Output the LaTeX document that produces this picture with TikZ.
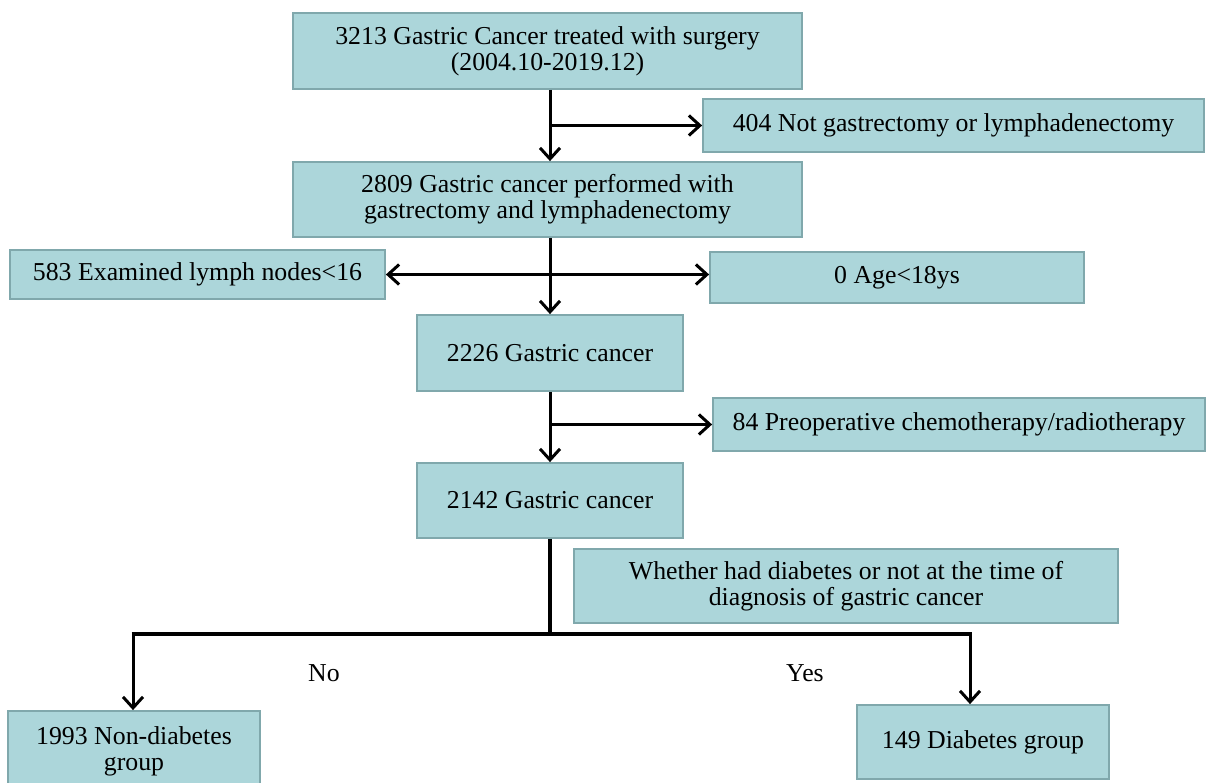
\documentclass[tikz,border=0pt]{standalone}
\usepackage{fontspec}
\setmainfont{Liberation Serif}
\usetikzlibrary{arrows.meta,calc}
\definecolor{boxfill}{RGB}{172,214,218}
\definecolor{boxline}{RGB}{128,168,172}
\tikzset{
  box/.style={draw=boxline, fill=boxfill, line width=1.8pt, inner sep=0pt, align=center,
    font=\fontsize{25.8}{26}\selectfont},
  tip/.style={Straight Barb[length=11pt,width=20pt,line width=3pt]},
  arr/.style={line width=3pt, -{Straight Barb[length=11pt,width=20pt,line width=3pt]}},
  arrboth/.style={line width=3pt, {Straight Barb[length=11pt,width=20pt,line width=3pt]}-{Straight Barb[length=11pt,width=20pt,line width=3pt]}},
  plainline/.style={line width=3.4pt},
  lbl/.style={font=\fontsize{25.8}{26}\selectfont, inner sep=0pt}
}
\begin{document}
\begin{tikzpicture}[x=1pt,y=-1pt]
\clip (0,0) rectangle (1206,782);
\fill[white] (0,0) rectangle (1206,782);
\node[box, minimum width=509pt, minimum height=76pt] (top) at (547.5,51) {3213 Gastric Cancer treated with surgery\\(2004.10-2019.12)};
\node[box, minimum width=501pt, minimum height=53pt] (n404) at (953.5,125.5) {404 Not gastrectomy or lymphadenectomy};
\node[box, minimum width=509pt, minimum height=75pt] (n2809) at (547.5,199.5) {2809 Gastric cancer performed with\\gastrectomy and lymphadenectomy};
\node[box, minimum width=375pt, minimum height=49pt] (n583) at (197.5,274.5) {583 Examined lymph nodes<16};
\node[box, minimum width=374pt, minimum height=51pt] (n0) at (897,277.5) {0 Age<18ys};
\node[box, minimum width=266pt, minimum height=76pt] (n2226) at (550,353) {2226 Gastric cancer};
\node[box, minimum width=492pt, minimum height=53pt] (n84) at (959,424.5) {84 Preoperative chemotherapy/radiotherapy};
\node[box, minimum width=266pt, minimum height=75pt] (n2142) at (550,500.5) {2142 Gastric cancer};
\node[box, minimum width=544pt, minimum height=74pt] (wh) at (846,586) {Whether had diabetes or not at the time of\\diagnosis of gastric cancer};
\node[box, minimum width=252pt, minimum height=81pt] (n1993) at (134,751.5) {1993 Non-diabetes\\group};
\node[box, minimum width=252pt, minimum height=74pt] (n149) at (983,742) {149 Diabetes group};
\node[lbl] (no) at (324,673) {No};
\node[lbl] (yes) at (805,673) {Yes};
% spine arrows
\draw[arr] (top.south -| n2226) -- (n2809.north -| n2226);
\draw[arr] (n2226 |- n404) -- (n404.west);
\draw[arr] (n2809.south -| n2226) -- (n2226.north);
\draw[arrboth] (n583.east) -- (n583.east -| n0.west);
\draw[arr] (n2226.south) -- (n2142.north);
\draw[arr] (n2226 |- n84) -- (n84.west);
% split
\coordinate (split) at (550,634);
\coordinate (lft) at (133,634);
\coordinate (rgt) at (970,634);
\draw[line width=4pt] (n2142.south) -- (split);
\draw[plainline, line cap=butt] ([xshift=-1.5pt]lft) -- ([xshift=1.5pt]rgt);
\draw[arr] (lft) -- (lft |- n1993.north);
\draw[arr] (rgt) -- (rgt |- n149.north);
\end{tikzpicture}
\end{document}
